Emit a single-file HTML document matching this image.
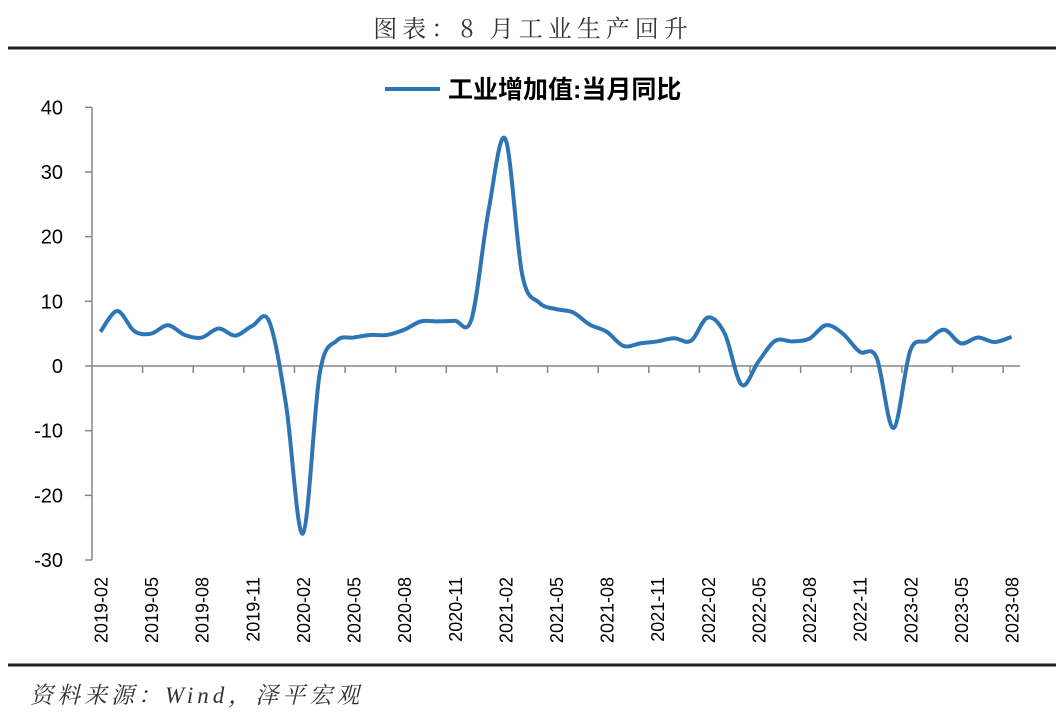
<!DOCTYPE html>
<html><head><meta charset="utf-8"><style>
body{margin:0;background:#fff;width:1060px;height:718px;overflow:hidden;font-family:"Liberation Sans","Noto Sans CJK SC",sans-serif}
</style></head><body>
<svg width="1060" height="718" xmlns="http://www.w3.org/2000/svg">
<text x="533" y="37" text-anchor="middle" font-size="24" letter-spacing="5" fill="#333" font-family="'Noto Serif CJK SC',serif">图表：8 月工业生产回升</text>
<line x1="8" y1="48" x2="1056" y2="48" stroke="#222" stroke-width="3"/>
<line x1="8" y1="665" x2="1056" y2="665" stroke="#222" stroke-width="3"/>
<text x="30" y="703" font-size="23" letter-spacing="4" font-style="italic" fill="#333" font-family="'Liberation Serif','Noto Serif CJK SC',serif">资料来源：Wind，泽平宏观</text>
<g>
<line x1="385" y1="89" x2="440" y2="89" stroke="#2e75b6" stroke-width="4"/>
<text x="448" y="98" font-size="25" font-weight="bold" fill="#000">工业增加值:当月同比</text>
</g>
<g id="axes"></g>
<path id="line" fill="none" stroke="#2e75b6" stroke-width="4" stroke-linejoin="round"/>
</svg>
<script>
const categories=[];
for(let y=2019,m=2;!(y===2023&&m>8);){categories.push(y+'-'+String(m).padStart(2,'0'));m++;if(m>12){m=1;y++;}}
const values=[5.3,8.5,5.4,5.0,6.3,4.8,4.4,5.8,4.7,6.2,6.9,-6.0,-25.9,-1.1,3.9,4.4,4.8,4.8,5.6,6.9,6.9,7.0,7.3,24.0,35.1,14.1,9.8,8.8,8.3,6.4,5.3,3.1,3.5,3.8,4.3,3.9,7.5,5.0,-2.9,0.7,3.9,3.8,4.2,6.3,5.0,2.2,1.3,-9.6,2.4,3.9,5.6,3.5,4.4,3.7,4.5];
const yTicks=[40,30,20,10,0,-10,-20,-30];
const X0=92,X1=1020,Y0=366,PER=6.467;
const bw=(X1-X0)/categories.length;
const xs=i=>X0+(i+0.5)*bw;
const ys=v=>Y0-v*PER;
const NS='http://www.w3.org/2000/svg';
const ax=document.getElementById('axes');
function mk(t,a){const e=document.createElementNS(NS,t);for(const k in a)e.setAttribute(k,a[k]);ax.appendChild(e);return e;}
let e=mk('line',{x1:X0,y1:ys(40),x2:X0,y2:ys(-30),stroke:'#868686','stroke-width':1.5});


e=mk('line',{x1:X0,y1:Y0,x2:X1,y2:Y0,stroke:'#868686','stroke-width':1.5});


yTicks.forEach(v=>{
 let t=mk('line',{x1:X0-7,y1:ys(v),x2:X0,y2:ys(v),stroke:'#868686','stroke-width':1.5});
 
 
 let l=mk('text',{x:63,y:ys(v)+7,'text-anchor':'end','font-size':20,fill:'#000'});
 l.textContent=v;
 
 
});
for(let i=0;i<categories.length;i+=3){
 if(i>0){let t=mk('line',{x1:X0+i*bw,y1:Y0,x2:X0+i*bw,y2:Y0+7,stroke:'#868686','stroke-width':1.5});
 
 }
 const cx=xs(i)+7;
 let l=mk('text',{x:cx,y:577,'text-anchor':'end','font-size':18,fill:'#000',transform:`rotate(-90 ${cx} 577)`});
 l.textContent=categories[i];
 
 
}
const P=values.map((v,i)=>[xs(i),ys(v)]);
let d=`M${P[0][0]},${P[0][1]}`;
for(let i=0;i<P.length-1;i++){
 const p0=P[Math.max(0,i-1)],p1=P[i],p2=P[i+1],p3=P[Math.min(P.length-1,i+2)];
 const t=1/6;
 const c1=[p1[0]+(p2[0]-p0[0])*t,p1[1]+(p2[1]-p0[1])*t];
 const c2=[p2[0]-(p3[0]-p1[0])*t,p2[1]-(p3[1]-p1[1])*t];
 d+=` C${c1[0]},${c1[1]} ${c2[0]},${c2[1]} ${p2[0]},${p2[1]}`;
}
document.getElementById('line').setAttribute('d',d);
</script>
</body></html>
